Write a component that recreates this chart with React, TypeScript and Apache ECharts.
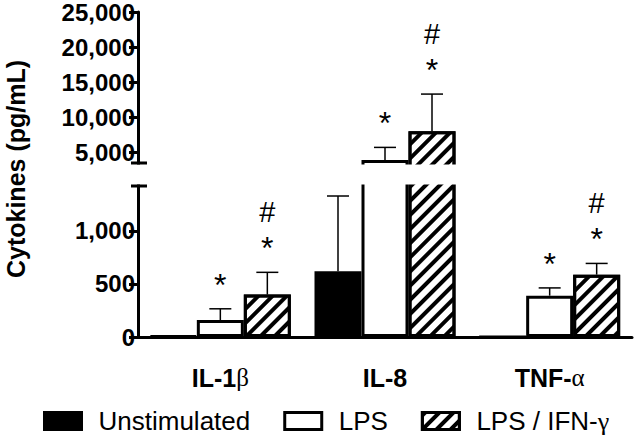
import React, { useEffect, useRef } from "react";
import * as echarts from "echarts";

// ---- data ----
const categories = ["IL-1β", "IL-8", "TNF-α"];
const groupNames = ["Unstimulated", "LPS", "LPS / IFN-γ"];
const unstimulatedMean = [10, 620, 0];
const lpsMean = [160, 3900, 390];
const lpsIfnMean = [400, 8000, 588];
const unstimulatedSem = [0, 710, 0];
const lpsSem = [106, 1800, 73];
const lpsIfnSem = [210, 5300, 106];
// significance marks, listed top to bottom
const unstimulatedMarks = ["", "", ""];
const lpsMarks = ["*", "*", "*"];
const lpsIfnMarks = ["#*", "#*", "#*"];
const lowTicks = [0, 500, 1000];
const highTicks = [5000, 10000, 15000, 20000, 25000];

// ---- broken axis geometry ----
const LOW_MAX = 1420;
const HIGH_MIN = 3400;
const HIGH_MAX = 25000;
const GRID_TOP = 11;
const HIGH_PX = 152;
const GAP_PX = 23;
const LOW_PX = 151;
const U = LOW_MAX / LOW_PX;
const tr = (v: number) =>
  v <= LOW_MAX ? v : LOW_MAX + GAP_PX * U + ((v - HIGH_MIN) * HIGH_PX * U) / (HIGH_MAX - HIGH_MIN);
const T_MAX = LOW_MAX + (GAP_PX + HIGH_PX) * U;

const FONT = "'Liberation Sans', Arial, Helvetica, sans-serif";
const SERIF = "'Liberation Serif', 'Times New Roman', serif";
const BAR_W = 47;
const AXIS_X = 138;

const means = [unstimulatedMean, lpsMean, lpsIfnMean];
const sems = [unstimulatedSem, lpsSem, lpsIfnSem];
const marks = [unstimulatedMarks, lpsMarks, lpsIfnMarks];

const hatch = {
  symbol: "rect",
  symbolSize: 1,
  color: "#000",
  backgroundColor: "#fff",
  dashArrayX: [1, 0],
  dashArrayY: [4, 6],
  rotation: -Math.PI / 4,
};

const barStyles = [
  { color: "#000", borderColor: "#000", borderWidth: 3 },
  { color: "#fff", borderColor: "#000", borderWidth: 3 },
  { color: "#fff", borderColor: "#000", borderWidth: 3, decal: hatch },
];

const greekSplit = (s: string) => {
  const m = s.match(/^(.*?)([\u03b1-\u03c9]?)$/);
  return m ? [m[1], m[2]] : [s, ""];
};

export default function App() {
  const ref = useRef<HTMLDivElement>(null);
  useEffect(() => {
    if (!ref.current) return;
    const chart = echarts.init(ref.current, undefined, { renderer: "svg" });
    const tickV = [...lowTicks, ...highTicks];
    const tickT = tickV.map(tr);

    const barSeries = groupNames.map((name, g) => ({
      type: "bar",
      name,
      data: means[g].map(tr),
      barWidth: BAR_W,
      barGap: "0%",
      itemStyle: barStyles[g],
      clip: false,
      z: 2,
    }));

    const errSeries = groupNames.map((name, g) => ({
      type: "custom",
      data: categories.map((c, i) => [i, tr(means[g][i]), tr(means[g][i] + sems[g][i])]),
      z: 3,
      clip: false,
      renderItem: (params: any, api: any) => {
        const i = params.dataIndex;
        const cat = api.value(0);
        const base = api.value(1);
        const top = api.value(2);
        const pB = api.coord([cat, base]);
        const pT = api.coord([cat, top]);
        const x = pB[0] + (g - 1) * BAR_W;
        const children: any[] = [];
        if (top > base) {
          children.push({
            type: "line",
            shape: { x1: x, y1: pB[1], x2: x, y2: pT[1] },
            style: { stroke: "#000", lineWidth: 1.5 },
          });
          children.push({
            type: "line",
            shape: { x1: x - 11, y1: pT[1], x2: x + 11, y2: pT[1] },
            style: { stroke: "#000", lineWidth: 1.5 },
          });
        }
        const mk = marks[g][i];
        let y = pT[1] - 31;
        for (let k = mk.length - 1; k >= 0; k--) {
          const ch = mk[k];
          const star = ch === "*";
          children.push({
            type: "text",
            x,
            y: star ? y + 7 : y,
            style: {
              text: ch,
              fontFamily: FONT,
              fontSize: star ? 32 : 29,
              fill: "#000",
              align: "center",
              verticalAlign: "middle",
            },
          });
          y -= 29;
        }
        return { type: "group", children };
      },
    }));

    chart.setOption({
      animation: false,
      grid: { left: AXIS_X, right: 2, top: GRID_TOP, height: HIGH_PX + GAP_PX + LOW_PX, containLabel: false },
      legend: {
        data: groupNames,
        left: 38,
        top: 403,
        itemWidth: 37,
        itemHeight: 17,
        itemGap: 33,
        icon: "rect",
        itemStyle: { borderWidth: 3, borderColor: "#000" },
        formatter: (n: string) => {
          const [a, b] = greekSplit(n);
          return b ? `{n|${a}}{g|${b}}` : `{n|${a}}`;
        },
        textStyle: {
          padding: [0, 0, 0, 12],
          rich: {
            n: { fontFamily: FONT, fontSize: 26, color: "#000" },
            g: { fontFamily: SERIF, fontSize: 26, color: "#000" },
          },
        },
      },
      xAxis: {
        type: "category",
        data: categories,
        axisLine: { lineStyle: { color: "#000", width: 3 } },
        axisTick: { alignWithLabel: true, length: 8, lineStyle: { color: "#000", width: 3 } },
        axisLabel: {
          margin: 28,
          formatter: (v: string) => {
            const [a, b] = greekSplit(v);
            return b ? `{b|${a}}{g|${b}}` : `{b|${a}}`;
          },
          rich: {
            b: { fontFamily: FONT, fontWeight: "bold", fontSize: 25, color: "#000" },
            g: { fontFamily: SERIF, fontSize: 25, color: "#000" },
          },
        },
      },
      yAxis: {
        type: "value",
        min: 0,
        max: T_MAX,
        splitLine: { show: false },
        axisLine: { show: true, lineStyle: { color: "#000", width: 3 } },
        axisTick: { show: true, length: 9, customValues: tickT, lineStyle: { color: "#000", width: 3 } },
        axisLabel: {
          margin: 3,
          customValues: tickT,
          fontFamily: FONT,
          fontWeight: "bold",
          fontSize: 24,
          color: "#000",
          formatter: (val: number) => {
            const idx = tickT.findIndex((t) => Math.abs(t - val) < 1e-6);
            return idx >= 0 ? tickV[idx].toLocaleString("en-US") : "";
          },
        },
      },
      graphic: [
        {
          type: "rect",
          z: 100,
          shape: { x: AXIS_X - 12, y: GRID_TOP + HIGH_PX + 1.5, width: 520, height: GAP_PX - 3 },
          style: { fill: "#fff" },
        },
        {
          type: "line",
          z: 101,
          shape: { x1: AXIS_X - 7, y1: GRID_TOP + HIGH_PX, x2: AXIS_X + 9, y2: GRID_TOP + HIGH_PX },
          style: { stroke: "#000", lineWidth: 3 },
        },
        {
          type: "line",
          z: 101,
          shape: {
            x1: AXIS_X - 7,
            y1: GRID_TOP + HIGH_PX + GAP_PX,
            x2: AXIS_X + 9,
            y2: GRID_TOP + HIGH_PX + GAP_PX,
          },
          style: { stroke: "#000", lineWidth: 3 },
        },
        {
          type: "text",
          x: 16,
          y: 169,
          rotation: Math.PI / 2,
          z: 101,
          style: {
            text: "Cytokines (pg/mL)",
            fontFamily: FONT,
            fontWeight: "bold",
            fontSize: 25,
            fill: "#000",
            align: "center",
            verticalAlign: "middle",
          },
        },
      ],
      series: [...barSeries, ...errSeries],
    });
    return () => chart.dispose();
  }, []);
  return <div ref={ref} style={{ width: 634, height: 439, position: "absolute", left: 0, top: 0 }} />;
}
